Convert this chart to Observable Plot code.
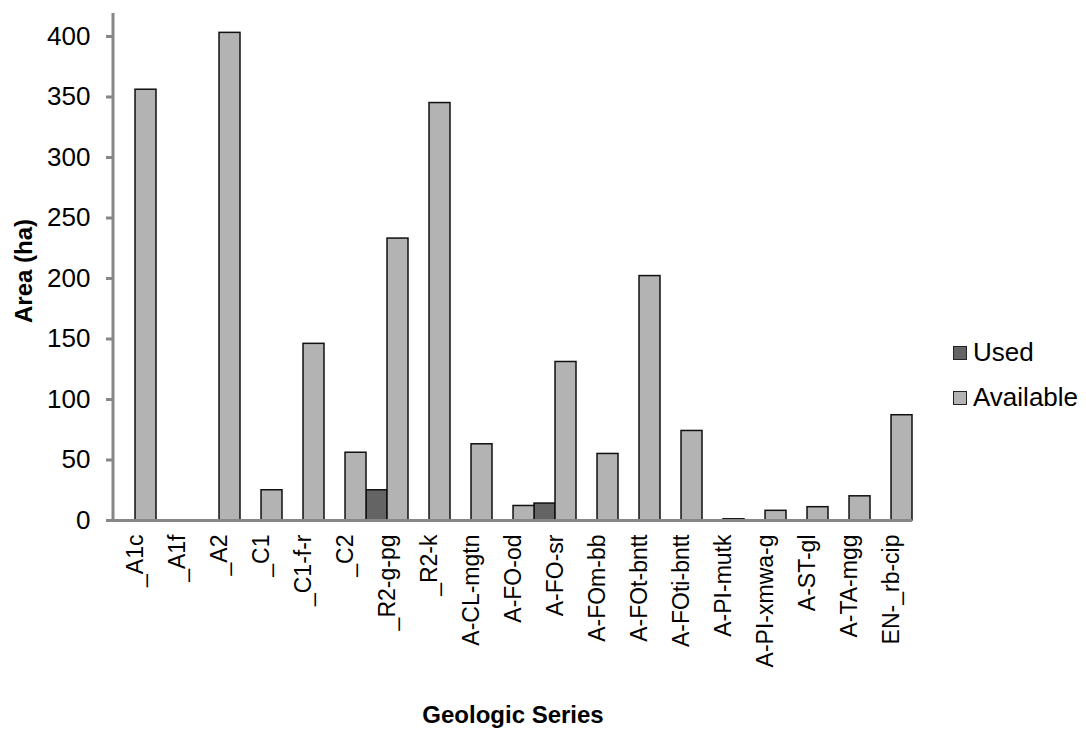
<!DOCTYPE html>
<html>
<head>
<meta charset="utf-8">
<script src="https://cdn.jsdelivr.net/npm/d3@7"></script>
<script src="https://cdn.jsdelivr.net/npm/@observablehq/plot@0.6"></script>
<style>
  body { margin: 0; background: #fff; font-family: "Liberation Sans", Arial, sans-serif; }
  #chart { position: relative; width: 1086px; height: 731px; }
  .legend { position: absolute; left: 953px; top: 330px; font-size: 26px; color: #000; }
  .legend .row { display: flex; align-items: center; height: 45px; }
  .legend .sw { width: 12px; height: 12px; border: 1px solid #222; margin-right: 6px; box-sizing: content-box; }
</style>
</head>
<body>
<div id="chart"></div>
<script>
// Area per geologic series (ha)
const categories = ["_A1c", "_A1f", "_A2", "_C1", "_C1-f-r", "_C2", "_R2-g-pg", "_R2-k",
  "A-CL-mgtn", "A-FO-od", "A-FO-sr", "A-FOm-bb", "A-FOt-bntt", "A-FOti-bntt",
  "A-PI-mutk", "A-PI-xmwa-g", "A-ST-gl", "A-TA-mgg", "EN-_rb-cip"];
const used      = [0, 0, 0, 0, 0, 0, 25, 0, 0, 0, 14, 0, 0, 0, 0, 0, 0, 0, 0];
const available = [356, 0, 403, 25, 146, 56, 233, 345, 63, 12, 131, 55, 202, 74, 1, 8, 11, 20, 87];
const yTicks = [0, 50, 100, 150, 200, 250, 300, 350, 400];
const seriesNames = ["Used", "Available"];
const seriesColors = ["#646464", "#b3b3b3"];

const W = 1086, H = 731;
const margin = {top: 13, right: 174, bottom: 211, left: 113};
const axisGray = "#878787";
const half = (W - margin.left - margin.right) / categories.length / 2;

const rows = categories.map((c, i) => ({category: c, used: used[i], available: available[i]}));

const plot = Plot.plot({
  width: W,
  height: H,
  marginTop: margin.top,
  marginRight: margin.right,
  marginBottom: margin.bottom,
  marginLeft: margin.left,
  style: {fontFamily: "'Liberation Sans', Arial, sans-serif", fontSize: "24px", color: "#000", background: "#fff"},
  x: {domain: categories, padding: 0, label: null},
  y: {domain: [0, 419], label: null},
  marks: [
    // grouped columns: Used on the left half of each band, Available on the right
    Plot.barY(rows, {x: "category", y: "used", insetRight: half,
      fill: seriesColors[0], stroke: "#111", strokeWidth: 1.5}),
    Plot.barY(rows, {x: "category", y: "available", insetLeft: half,
      fill: seriesColors[1], stroke: "#111", strokeWidth: 1.5}),
    Plot.ruleY([0], {stroke: axisGray, strokeWidth: 3}),
    Plot.axisY({ticks: yTicks, tickSize: 7, tickPadding: 16, stroke: axisGray, strokeWidth: 3,
      fill: "#000", fontSize: 26, label: null}),
    Plot.axisX({tickSize: 0, tickPadding: 14, tickRotate: -90, fill: "#000", fontSize: 23, label: null}),
    Plot.text(["Area (ha)"], {text: d => d, frameAnchor: "left", rotate: -90, dx: -89, dy: 4,
      textAnchor: "middle", fontWeight: "bold", fontSize: 24}),
    Plot.text(["Geologic Series"], {text: d => d, frameAnchor: "bottom", dy: 195,
      lineAnchor: "middle", fontWeight: "bold", fontSize: 24})
  ]
});

// vertical axis line
const ys = plot.scale("y");
d3.select(plot).append("line")
  .attr("x1", margin.left).attr("x2", margin.left)
  .attr("y1", ys.apply(ys.domain[1])).attr("y2", ys.apply(0) + 1.5)
  .attr("stroke", axisGray).attr("stroke-width", 3);

const chart = document.getElementById("chart");
chart.appendChild(plot);

// legend
const legend = document.createElement("div");
legend.className = "legend";
seriesNames.forEach((name, i) => {
  const row = document.createElement("div");
  row.className = "row";
  const sw = document.createElement("span");
  sw.className = "sw";
  sw.style.background = seriesColors[i];
  const label = document.createElement("span");
  label.textContent = name;
  row.appendChild(sw);
  row.appendChild(label);
  legend.appendChild(row);
});
chart.appendChild(legend);
</script>
</body>
</html>
